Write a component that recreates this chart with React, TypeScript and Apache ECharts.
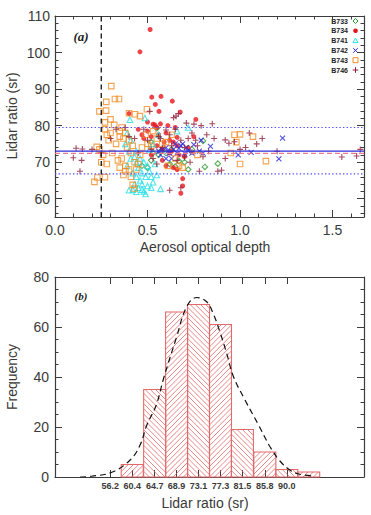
import React, { useEffect, useRef } from "react";
import * as echarts from "echarts";

// ---------- panel (a): lidar ratio against aerosol optical depth ----------
const flightNames = ["B733", "B734", "B741", "B742", "B743", "B746"];
const flightColors = ["#2f9a2f", "#e8141c", "#22e0e6", "#2424d8", "#f08c24", "#8e1f3a"];

const b733: [number, number][] = [
  [0.52, 75.5], [0.55, 79.3], [0.5, 68.5], [0.47, 69], [0.52, 70.5], [0.56, 72], [0.6, 72.5],
  [0.62, 69.5], [0.65, 68.8], [0.67, 70.3], [0.7, 70], [0.72, 68], [0.8, 75.8], [0.81, 68.7],
  [0.88, 69.6], [0.74, 73.5], [0.57, 73], [0.53, 72.5], [0.63, 73.5],
];
const b734: [number, number][] = [
  [0.514, 106.3], [0.459, 100.2], [0.523, 87.8], [0.573, 88.0], [0.542, 85.8], [0.562, 83.9],
  [0.634, 86.7], [0.677, 83.7], [0.761, 81.7], [0.53, 80.4], [0.54, 80.2], [0.55, 79.5], [0.4, 83.3],
  [0.5, 78.5], [0.52, 77.0], [0.56, 77.5], [0.6, 78.0], [0.62, 76.0], [0.64, 75.5], [0.66, 74.5],
  [0.48, 76.5], [0.55, 74.5], [0.58, 73.5], [0.62, 72.5], [0.67, 72.0], [0.7, 71.5], [0.64, 68.5],
  [0.66, 68.0], [0.69, 65.5], [0.69, 63.5], [0.68, 61.5], [0.58, 70.5], [0.6, 69.0], [0.63, 73.0],
  [0.52, 72.0], [0.45, 79.0], [0.75, 77.0], [0.72, 74.0], [0.47, 77.5], [0.5, 81], [0.57, 80.5],
  [0.61, 80], [0.65, 79.5], [0.59, 75.5], [0.66, 76.8],
];
const b741: [number, number][] = [
  [0.405, 81.6], [0.486, 82.1], [0.38, 75], [0.4, 73], [0.41, 71], [0.39, 69], [0.42, 67],
  [0.4, 62.3], [0.42, 62.5], [0.43, 64], [0.44, 66], [0.45, 63], [0.46, 65], [0.47, 64],
  [0.48, 62], [0.49, 61.3], [0.5, 63.5], [0.47, 67], [0.45, 68.5], [0.44, 70], [0.48, 70],
  [0.5, 69], [0.52, 66], [0.53, 64.5], [0.55, 66.5], [0.57, 62.7], [0.43, 71.5], [0.51, 73.5],
  [0.53, 75], [0.56, 77.5], [0.66, 78.5], [0.72, 79.5], [0.39, 78], [0.41, 76], [0.44, 73],
  [0.46, 71], [0.47, 62.5], [0.49, 66], [0.51, 67.5], [0.44, 61.9], [0.52, 63], [0.54, 69.5],
];
const b742: [number, number][] = [
  [0.56, 73], [0.58, 73.5], [0.6, 74], [0.62, 72.5], [0.63, 71], [0.64, 73.5], [0.66, 72.5],
  [0.68, 74.5], [0.69, 75], [0.7, 72.5], [0.72, 73], [0.74, 72.5], [0.78, 73], [0.79, 76],
  [0.84, 74.3], [0.99, 72.0], [1.06, 72.7], [1.21, 70.9], [1.23, 76.6], [0.6, 71], [0.65, 75],
  [0.57, 72], [0.61, 73], [0.67, 73.8], [0.71, 74], [0.75, 74.8], [0.8, 72.5],
];
const b743: [number, number][] = [
  [0.304, 90.8], [0.277, 86.5], [0.324, 87.3], [0.346, 87.3], [0.24, 83.9], [0.276, 84.1],
  [0.4, 83.4], [0.432, 83.1], [0.459, 82.6], [0.497, 84.5], [0.27, 80.9], [0.3, 81.7],
  [0.225, 74.2], [0.24, 73.5], [0.213, 64.6], [0.229, 65.8], [0.27, 65.9], [0.27, 79], [0.3, 78],
  [0.29, 76], [0.33, 75], [0.35, 77], [0.36, 79.5], [0.38, 78], [0.4, 76], [0.42, 74.5],
  [0.36, 71], [0.38, 69], [0.4, 68], [0.37, 66.5], [0.41, 66], [0.44, 68], [0.46, 72],
  [0.31, 72.5], [0.34, 70.5], [0.28, 69.5], [0.5, 75], [0.53, 78.5], [0.6, 75.5], [0.63, 77.5],
  [0.65, 71], [0.67, 69], [0.97, 77.5], [1.0, 69.5], [1.0, 77.6], [1.07, 77], [1.14, 70.3],
  [0.95, 72.5], [0.42, 63.8], [0.43, 62.8], [0.52, 74.5], [0.32, 80.2], [0.35, 78.5],
  [0.37, 76.5], [0.39, 74], [0.41, 72.5], [0.43, 70], [0.45, 69.5], [0.38, 67.5], [0.35, 68.5],
  [0.47, 74], [0.49, 77.5], [0.55, 76.5], [0.58, 75], [0.61, 69], [0.69, 68.5], [0.77, 72],
  [0.98, 75.5], [0.26, 72], [0.28, 77.5], [0.25, 70],
];
const b746: [number, number][] = [
  [0.114, 73.8], [0.148, 73.6], [0.099, 71.2], [0.144, 70.5], [0.135, 67.5], [0.512, 83.9],
  [0.641, 82.2], [0.654, 82.6], [0.667, 83.3], [0.71, 80.7], [0.751, 80.4], [0.25, 72.5],
  [0.2, 73.5], [0.3, 76.5], [0.33, 79], [0.45, 72.5], [0.52, 73.5], [0.57, 76.5], [0.6, 78.8],
  [0.63, 74.5], [0.66, 70.5], [0.7, 71.5], [0.72, 76.5], [0.74, 78], [0.76, 76], [0.78, 67.5],
  [0.8, 71.5], [0.82, 77.5], [0.86, 76.5], [0.88, 67.5], [0.9, 67.8], [0.92, 76.1], [0.94, 75.2],
  [0.97, 75.6], [1.03, 74], [1.09, 75.0], [1.2, 73], [1.55, 71.4], [1.63, 71.7], [0.62, 62.3],
  [0.68, 63], [0.56, 77], [0.74, 72.8], [0.38, 79.5], [0.4, 77], [0.43, 76.5], [0.48, 79],
  [0.5, 76], [0.53, 71], [0.55, 69.5], [0.58, 74], [0.62, 77.5], [0.65, 79], [0.68, 76],
  [0.7, 74], [0.73, 70], [0.77, 74.5], [0.79, 80], [0.83, 73], [0.85, 80.5], [1.0, 73.5],
  [1.05, 78], [1.12, 76.5], [1.65, 73.5], [0.92, 71],
];
const flightData = [b733, b734, b741, b742, b743, b746];

const aodTicks = [0, 0.5, 1.0, 1.5];
const ratioTicks = [60, 70, 80, 90, 100, 110];
const aodCut = 0.25;
const ratioMean = 73.0;
const ratioMedian = 72.4;
const ratioUpper = 79.5;
const ratioLower = 66.8;
const aodMax = 1.67;

// ---------- panel (b): frequency of lidar ratio ----------
const binCentres = [56.2, 60.4, 64.7, 68.9, 73.1, 77.3, 81.5, 85.8, 90.0, 94.2];
const binCounts = [0, 5, 35, 66, 69, 61, 19, 10, 3, 2];
const binWidth = 4.225;
const binLabelValues = [56.2, 60.4, 64.7, 68.9, 73.1, 77.3, 81.5, 85.8, 90.0];
const freqTicks = [0, 20, 40, 60, 80];
const fitCurve: [number, number][] = [
  [50.4, 0], [52.6, 0.3], [56.5, 1.9], [60.0, 6.8], [61.9, 12.8], [63.2, 20.8], [65.0, 28.8],
  [66.4, 39.4], [68.9, 56.0], [70.8, 68.0], [72.75, 71.8], [74.7, 70.0], [75.9, 65.4],
  [77.2, 58.0], [78.5, 49.4], [79.8, 40.1], [82.0, 30.8], [84.6, 20.8], [86.8, 12.1],
  [88.7, 6.4], [90.6, 2.8], [92.5, 1.1], [95.1, 0.4],
];

const AXIS = "#3c3c3c";
const TEXT = "#3a3a3a";
const FONT = "Liberation Sans, Arial, sans-serif";
const BAR = "#e26a6a";

const range = (a: number, b: number, step: number, skip: number[]) => {
  const out: number[] = [];
  for (let v = a; v <= b + 1e-9; v += step) {
    const r = Math.round(v * 1000) / 1000;
    if (!skip.some((s) => Math.abs(s - r) < 1e-6)) out.push(r);
  }
  return out;
};

type AxisOpt = {
  grid: number;
  min: number;
  max: number;
  majors: number[];
  minors: number[];
  position: string;
  labels?: { fmt: (v: number) => string; size: number; margin: number; weight?: string };
};

// one major-tick axis and one minor-tick axis per side
function axisPair(o: AxisOpt) {
  const base = {
    type: "value",
    gridIndex: o.grid,
    min: o.min,
    max: o.max,
    position: o.position,
    splitLine: { show: false },
    axisLine: { show: true, onZero: false, lineStyle: { color: AXIS, width: 1.2 } },
  };
  const major = {
    ...base,
    axisTick: { show: true, inside: true, length: 7, customValues: o.majors, lineStyle: { color: AXIS, width: 1 } },
    axisLabel: o.labels
      ? {
          show: true,
          customValues: o.majors,
          formatter: o.labels.fmt,
          fontSize: o.labels.size,
          fontFamily: FONT,
          fontWeight: o.labels.weight || "normal",
          color: TEXT,
          margin: o.labels.margin,
        }
      : { show: false },
  };
  const minor = {
    ...base,
    axisLine: { show: false, onZero: false },
    axisTick: { show: o.minors.length > 0, inside: true, length: 3.5, customValues: o.minors, lineStyle: { color: AXIS, width: 1 } },
    axisLabel: { show: false },
  };
  return [major, minor];
}

export default function App() {
  const ref = useRef<HTMLDivElement>(null);

  useEffect(() => {
    if (!ref.current) return;
    const chart = echarts.init(ref.current, null, { renderer: "svg" });

    const aodMinors = range(0, aodMax, 0.1, aodTicks);
    const ratioMinors = range(56, 110, 2, ratioTicks);
    const freqMinors = range(0, 80, 5, freqTicks);

    const xAxes = [
      ...axisPair({ grid: 0, min: 0, max: aodMax, majors: aodTicks, minors: aodMinors, position: "bottom",
        labels: { fmt: (v) => v.toFixed(1), size: 14, margin: 6 } }),
      ...axisPair({ grid: 0, min: 0, max: aodMax, majors: aodTicks, minors: aodMinors, position: "top" }),
      ...axisPair({ grid: 1, min: 45.6, max: 104.8, majors: binLabelValues, minors: [], position: "bottom",
        labels: { fmt: (v) => v.toFixed(1), size: 9, margin: 4, weight: "bold" } }),
      ...axisPair({ grid: 1, min: 45.6, max: 104.8, majors: binLabelValues, minors: [], position: "top" }),
    ];
    const yAxes = [
      ...axisPair({ grid: 0, min: 55, max: 110, majors: ratioTicks, minors: ratioMinors, position: "left",
        labels: { fmt: (v) => String(v), size: 14, margin: 5 } }),
      ...axisPair({ grid: 0, min: 55, max: 110, majors: ratioTicks, minors: ratioMinors, position: "right" }),
      ...axisPair({ grid: 1, min: 0, max: 80, majors: freqTicks, minors: freqMinors, position: "left",
        labels: { fmt: (v) => String(v), size: 14, margin: 6 } }),
      ...axisPair({ grid: 1, min: 0, max: 80, majors: freqTicks, minors: freqMinors, position: "right" }),
    ];

    const hollow = (d: string, color: string) => ({
      symbol: d,
      itemStyle: { color: "rgba(0,0,0,0)", borderColor: color, borderWidth: 1.1 },
    });
    const symbolStyles = [
      { ...hollow("path://M5,0L10,5L5,10L0,5Z", flightColors[0]), symbolSize: 5.5 },
      { symbol: "circle", symbolSize: 5, itemStyle: { color: flightColors[1] } },
      { ...hollow("path://M5,0L10,9L0,9Z", flightColors[2]), symbolSize: 5.5 },
      { ...hollow("path://M0,0L10,10M10,0L0,10", flightColors[3]), symbolSize: 5 },
      { ...hollow("path://M0,0H10V10H0Z", flightColors[4]), symbolSize: 5.5 },
      { ...hollow("path://M5,0V10M0,5H10", flightColors[5]), symbolSize: 6 },
    ];

    const scatterSeries = flightNames.map((name, i) => ({
      name,
      type: "scatter",
      xAxisIndex: 0,
      yAxisIndex: 0,
      data: flightData[i],
      ...symbolStyles[i],
      z: 3,
    }));

    // horizontal reference levels drawn as plain line series across the full AOD range
    const hLine = (y: number, color: string, type: any, width: number, z: number) => ({
      type: "line",
      xAxisIndex: 0,
      yAxisIndex: 0,
      data: [[0, y], [aodMax, y]],
      symbol: "none",
      silent: true,
      lineStyle: { color, type, width },
      z,
    });
    const refLines = [
      hLine(ratioUpper, "#5050ff", [1.4, 2.2], 1.1, 4),
      hLine(ratioLower, "#5050ff", [1.4, 2.2], 1.1, 4),
      hLine(ratioMedian, "#f07a8c", [5, 3], 1.4, 4),
      hLine(ratioMean, "#2b2bdc", "solid", 1.3, 5),
      {
        type: "line",
        xAxisIndex: 0,
        yAxisIndex: 0,
        data: [[aodCut, 55], [aodCut, 110]],
        symbol: "none",
        silent: true,
        lineStyle: { color: "#111", type: [5, 3.5], width: 1.3 },
        z: 5,
      },
    ];

    // hatched histogram bars, alternating hatch direction
    const histSeries = {
      type: "custom",
      xAxisIndex: 4,
      yAxisIndex: 4,
      data: binCentres.map((c, i) => [c, binCounts[i], i]),
      renderItem: (params: any, api: any) => {
        const c = api.value(0);
        const n = api.value(1);
        const idx = api.value(2);
        if (n <= 0) return null;
        const [x0, yb] = api.coord([c - binWidth / 2, 0]);
        const [x1, yt] = api.coord([c + binWidth / 2, n]);
        const step = 5.2;
        const children: any[] = [];
        const forward = idx % 2 === 1;
        if (forward) {
          // lines where x + y is constant
          const start = Math.ceil((x0 + yt) / step) * step;
          for (let k = start; k <= x1 + yb; k += step) {
            const xs = Math.max(x0, k - yb);
            const xe = Math.min(x1, k - yt);
            if (xe - xs > 0.3)
              children.push({ type: "line", shape: { x1: xs, y1: k - xs, x2: xe, y2: k - xe },
                style: { stroke: BAR, lineWidth: 0.8 } });
          }
        } else {
          // lines where x - y is constant
          const start = Math.ceil((x0 - yb) / step) * step;
          for (let k = start; k <= x1 - yt; k += step) {
            const xs = Math.max(x0, k + yt);
            const xe = Math.min(x1, k + yb);
            if (xe - xs > 0.3)
              children.push({ type: "line", shape: { x1: xs, y1: xs - k, x2: xe, y2: xe - k },
                style: { stroke: BAR, lineWidth: 0.8 } });
          }
        }
        children.push({
          type: "rect",
          shape: { x: x0, y: yt, width: x1 - x0, height: yb - yt },
          style: { fill: "none", stroke: BAR, lineWidth: 1.1 },
        });
        return { type: "group", children };
      },
      z: 2,
    };

    const fitSeries = {
      type: "line",
      xAxisIndex: 4,
      yAxisIndex: 4,
      data: fitCurve,
      smooth: 0.4,
      symbol: "none",
      lineStyle: { color: "#111", width: 1.2, type: [6, 4] },
      z: 5,
    };

    // legend rows: label text and the flight's marker
    const legendTop = 21;
    const legendGap = 9.8;
    const legendGraphics: any[] = [];
    flightNames.forEach((name, i) => {
      const y = legendTop + i * legendGap;
      const col = flightColors[i];
      legendGraphics.push({
        type: "text",
        x: 348,
        y,
        style: { text: name, fill: "#222", font: `bold 7px ${FONT}`, align: "right", verticalAlign: "middle" },
      });
      const cx = 355.5;
      const st = { stroke: col, fill: "none", lineWidth: 1 };
      if (i === 0) legendGraphics.push({ type: "polygon", shape: { points: [[cx, y - 2.5], [cx + 2.5, y], [cx, y + 2.5], [cx - 2.5, y]] }, style: st });
      if (i === 1) legendGraphics.push({ type: "circle", shape: { cx, cy: y, r: 2.3 }, style: { fill: col } });
      if (i === 2) legendGraphics.push({ type: "polygon", shape: { points: [[cx, y - 2.5], [cx + 2.5, y + 2], [cx - 2.5, y + 2]] }, style: st });
      if (i === 3) {
        legendGraphics.push({ type: "line", shape: { x1: cx - 2.3, y1: y - 2.3, x2: cx + 2.3, y2: y + 2.3 }, style: st });
        legendGraphics.push({ type: "line", shape: { x1: cx - 2.3, y1: y + 2.3, x2: cx + 2.3, y2: y - 2.3 }, style: st });
      }
      if (i === 4) legendGraphics.push({ type: "rect", shape: { x: cx - 2.5, y: y - 2.5, width: 5, height: 5 }, style: st });
      if (i === 5) {
        legendGraphics.push({ type: "line", shape: { x1: cx - 2.8, y1: y, x2: cx + 2.8, y2: y }, style: st });
        legendGraphics.push({ type: "line", shape: { x1: cx, y1: y - 2.8, x2: cx, y2: y + 2.8 }, style: st });
      }
    });

    const titleStyle = (text: string) => ({ text, fill: TEXT, font: `14px ${FONT}`, align: "center", verticalAlign: "middle" });

    chart.setOption({
      animation: false,
      backgroundColor: "#fff",
      grid: [
        { left: 55, top: 16, width: 309, height: 201 },
        { left: 55, top: 277, width: 309, height: 200 },
      ],
      xAxis: xAxes,
      yAxis: yAxes,
      series: [...scatterSeries, ...refLines, histSeries, fitSeries],
      graphic: [
        ...legendGraphics,
        { type: "text", x: 81, y: 36, style: { text: "(a)", fill: "#222", font: `italic bold 13px "Liberation Serif", serif`, align: "center", verticalAlign: "middle" } },
        { type: "text", x: 81, y: 296, style: { text: "(b)", fill: "#222", font: `italic bold 11px "Liberation Serif", serif`, align: "center", verticalAlign: "middle" } },
        { type: "text", x: 205, y: 247, style: titleStyle("Aerosol optical depth") },
        { type: "text", x: 205, y: 503, style: titleStyle("Lidar ratio (sr)") },
        { type: "text", x: 12, y: 116, rotation: Math.PI / 2, style: titleStyle("Lidar ratio (sr)") },
        { type: "text", x: 12, y: 377, rotation: Math.PI / 2, style: titleStyle("Frequency") },
      ],
    });

    return () => chart.dispose();
  }, []);

  return (
    <div
      ref={ref}
      style={{ position: "absolute", left: 0, top: 0, width: 371, height: 515, background: "#fff" }}
    />
  );
}
